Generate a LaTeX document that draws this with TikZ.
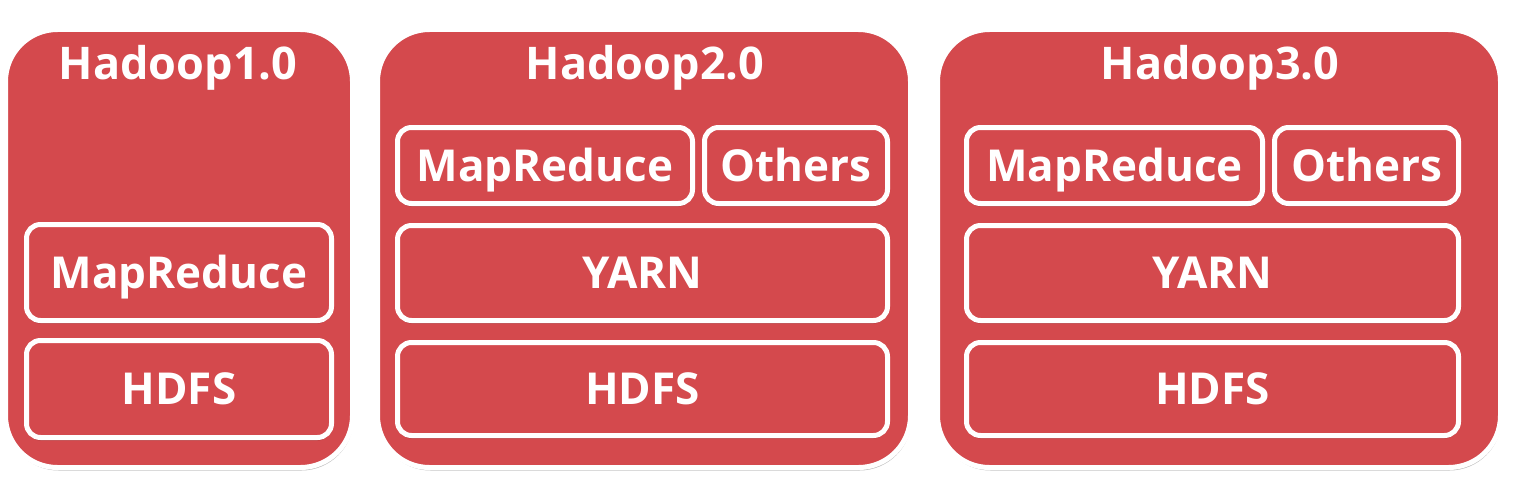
\documentclass[tikz,border=0pt]{standalone}
\usepackage{fontspec}
\setmainfont{Open Sans}
\usetikzlibrary{shadows}
\definecolor{hred}{HTML}{D4494D}
\tikzset{
  x=1pt,y=-1pt,
  outerbox/.style={draw=white,line width=5pt,fill=hred,rounded corners=52pt,
    inner sep=0pt,outer sep=0pt,
    drop shadow={shadow xshift=1pt,shadow yshift=-3pt,opacity=0.25,fill=black}},
  innerbox/.style={draw=white,line width=5pt,fill=hred,rounded corners=14pt,
    inner sep=0pt,outer sep=0pt,text=white,font=\fontsize{44}{52}\selectfont\bfseries,
    text height=31.4pt,text depth=0pt,
    drop shadow={shadow xshift=0pt,shadow yshift=-3pt,opacity=0.3,fill=black!60!hred}},
  titletext/.style={text=white,font=\fontsize{45}{54}\selectfont\bfseries,inner sep=0pt,
    text height=32pt,text depth=0pt}
}
\begin{document}
\begin{tikzpicture}
\useasboundingbox[fill=white] (0,0) rectangle (1516,495);
% outer boxes
\node[outerbox,minimum width=347pt,minimum height=438pt] (o1) at (179,248.5) {};
\node[outerbox,minimum width=533pt,minimum height=438pt] (o2) at (644,248.5) {};
\node[outerbox,minimum width=563pt,minimum height=438pt] (o3) at (1219,248.5) {};
% titles
\node[titletext] (t1) at (178,64) {Hadoop1.0};
\node[titletext] (t2) at (645,64) {Hadoop2.0};
\node[titletext] (t3) at (1220,64) {Hadoop3.0};
% box 1
\node[innerbox,minimum width=305pt,minimum height=96pt] (mr1) at (179,272.5) {MapReduce};
\node[innerbox,minimum width=305pt,minimum height=97pt] (hd1) at (179,389) {HDFS};
% box 2
\node[innerbox,minimum width=295pt,minimum height=76pt] (mr2) at (545,165.5) {MapReduce};
\node[innerbox,minimum width=183pt,minimum height=76pt] (ot2) at (796,165.5) {Others};
\node[innerbox,minimum width=490pt,minimum height=95pt] (ya2) at (642.5,273) {YARN};
\node[innerbox,minimum width=490pt,minimum height=93pt] (hd2) at (642.5,389) {HDFS};
% box 3
\node[innerbox,minimum width=296pt,minimum height=76pt] (mr3) at (1114.5,165.5) {MapReduce};
\node[innerbox,minimum width=184pt,minimum height=76pt] (ot3) at (1366.5,165.5) {Others};
\node[innerbox,minimum width=492pt,minimum height=95pt] (ya3) at (1212.5,273) {YARN};
\node[innerbox,minimum width=492pt,minimum height=93pt] (hd3) at (1212.5,389) {HDFS};
\end{tikzpicture}
\end{document}
